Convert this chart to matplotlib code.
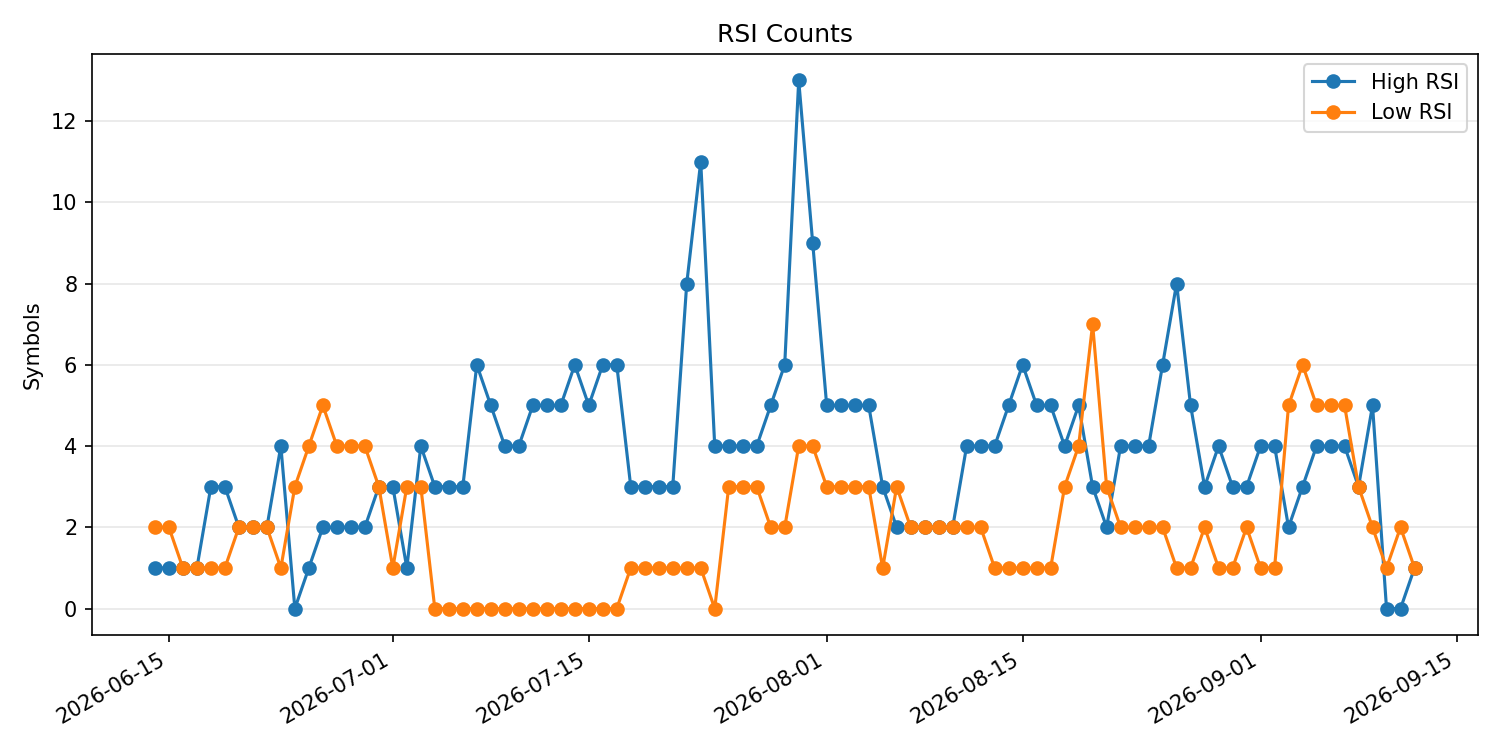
import matplotlib
matplotlib.use("Agg")
import matplotlib.pyplot as plt
import pandas as pd

dates = pd.date_range("2026-06-14", "2026-09-12", freq="D")

high_rsi = [1, 1, 1, 1, 3, 3, 2, 2, 2, 4, 0, 1, 2, 2, 2, 2, 3, 3, 1, 4,
            3, 3, 3, 6, 5, 4, 4, 5, 5, 5, 6, 5, 6, 6, 3, 3, 3, 3, 8, 11,
            4, 4, 4, 4, 5, 6, 13, 9, 5, 5, 5, 5, 3, 2, 2, 2, 2, 2, 4, 4,
            4, 5, 6, 5, 5, 4, 5, 3, 2, 4, 4, 4, 6, 8, 5, 3, 4, 3, 3, 4,
            4, 2, 3, 4, 4, 4, 3, 5, 0, 0, 1]
low_rsi = [2, 2, 1, 1, 1, 1, 2, 2, 2, 1, 3, 4, 5, 4, 4, 4, 3, 1, 3, 3,
           0, 0, 0, 0, 0, 0, 0, 0, 0, 0, 0, 0, 0, 0, 1, 1, 1, 1, 1, 1,
           0, 3, 3, 3, 2, 2, 4, 4, 3, 3, 3, 3, 1, 3, 2, 2, 2, 2, 2, 2,
           1, 1, 1, 1, 1, 3, 4, 7, 3, 2, 2, 2, 2, 1, 1, 2, 1, 1, 2, 1,
           1, 5, 6, 5, 5, 5, 3, 2, 1, 2, 1]

fig, ax = plt.subplots(figsize=(10, 5), dpi=150)
ax.plot(dates, high_rsi, marker="o", label="High RSI")
ax.plot(dates, low_rsi, marker="o", label="Low RSI")
ax.set_title("RSI Counts")
ax.set_ylabel("Symbols")
ax.grid(axis="y", alpha=0.3)
ax.legend(loc="upper right")
fig.autofmt_xdate()
fig.tight_layout()
fig.savefig("out.png")
